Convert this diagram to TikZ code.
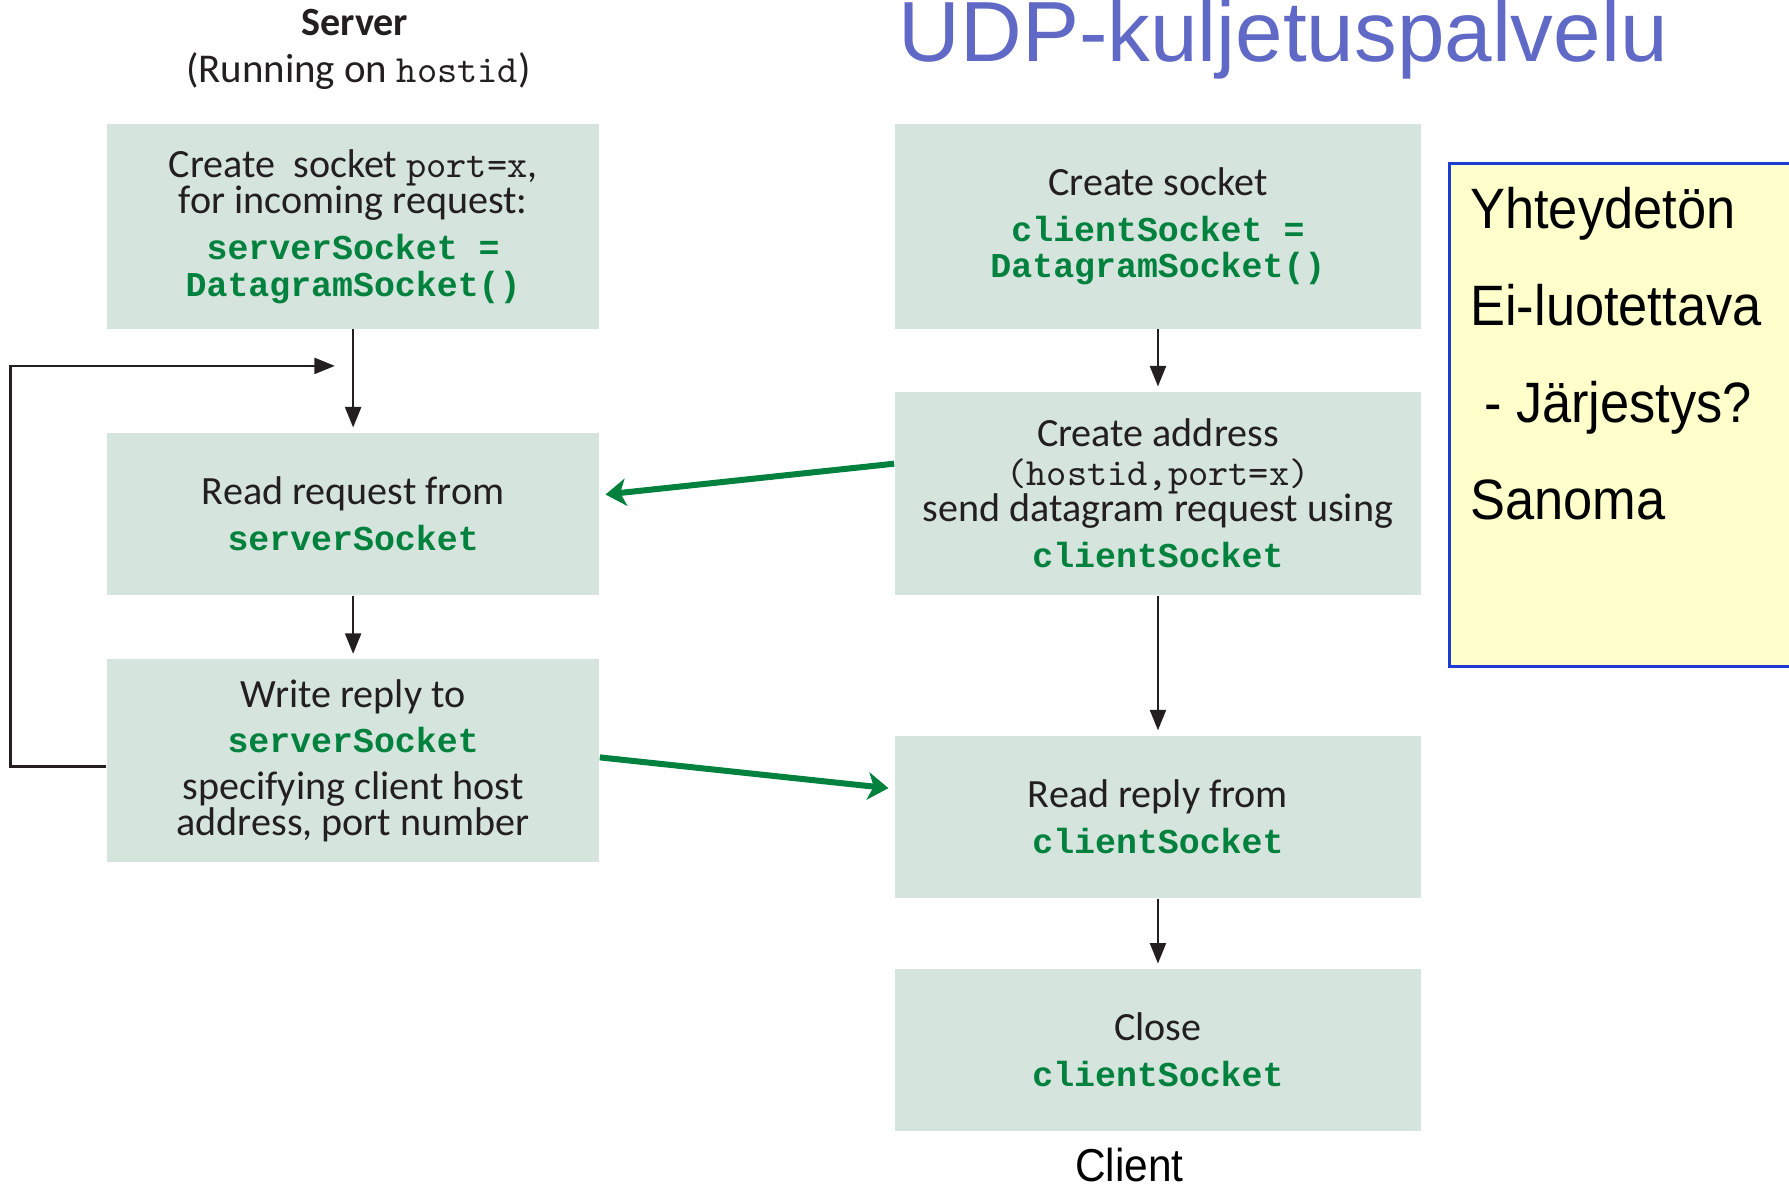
\documentclass[tikz,border=0pt]{standalone}
\usepackage{fontspec}
\setmainfont{Carlito}
\setmonofont{Liberation Mono}
\newfontfamily\lmmono{Latin Modern Mono}
\newfontfamily\arialfont{Liberation Sans}
\newfontfamily\narrowfont[FakeStretch=0.92]{Liberation Sans}
\usetikzlibrary{arrows.meta, positioning}
\definecolor{boxgreen}{RGB}{213,228,221}
\definecolor{codegreen}{RGB}{0,130,62}
\definecolor{titleblue}{RGB}{96,106,198}
\definecolor{noteyellow}{RGB}{255,255,204}
\definecolor{noteblue}{RGB}{30,60,210}
\definecolor{textgray}{RGB}{35,31,32}
\newcommand{\boxfont}{\fontsize{10}{9.1}\selectfont\lineskiplimit=-20pt\relax}
\newcommand{\code}[1]{{\ttfamily\bfseries\fontsize{8.7}{9.1}\selectfont\color{codegreen}#1}}
\newcommand{\plaincode}[1]{{\lmmono\fontsize{9.6}{9.1}\selectfont #1}}

\begin{document}
\begin{tikzpicture}[
      node distance=0.9cm,
      stepbox/.style={rectangle, fill=boxgreen, text=textgray, align=center,
                  inner sep=2pt, font=\boxfont},
      srvbox/.style={stepbox, minimum width=4.31cm},
      clibox/.style={stepbox, minimum width=4.61cm},
      notebox/.style={rectangle, draw=noteblue, fill=noteyellow, line width=0.8pt},
      arr/.style={-{Triangle[length=1.8mm, width=1.4mm]}, line width=0.6pt,
                  draw=textgray, shorten >=0.4mm},
      msg/.style={-{Stealth[length=1.8mm, width=2.4mm, inset=0.5mm]},
                  line width=1.5pt, draw=codegreen}
    ]
    \useasboundingbox (0,0) rectangle (15.68,-10.39);

    % server side
    \node[font=\fontsize{10}{12}\selectfont\bfseries, text=textgray] (srvtitle) at (3.11,-0.20) {Server};
    \node[font=\fontsize{10.2}{12}\selectfont, text=textgray] (srvhost) at (3.14,-0.62) {(Running on \plaincode{hostid})};
    \node[srvbox, minimum height=1.79cm] (sinit) at (3.095,-1.985)
      {Create\ \ socket \plaincode{port=x},\\ for incoming request:\\[2.3pt] \code{serverSocket =}\\ \code{DatagramSocket()}};
    \node[srvbox, minimum height=1.42cm, below=0.90cm of sinit] (sread)
      {Read request from\\[2.3pt] \code{serverSocket}};
    \node[srvbox, minimum height=1.78cm, below=0.55cm of sread] (swrite)
      {Write reply to\\[2.3pt] \code{serverSocket}\\[2.5pt] specifying client host\\ address, port number};

    % client side
    \node[anchor=base west, inner sep=0, font=\arialfont\fontsize{21.3}{24}\selectfont, text=titleblue] (title) at (7.87,-0.54) {UDP-kuljetuspalvelu};
    \node[clibox, minimum height=1.79cm, right=2.58cm of sinit] (cinit)
      {Create socket\\[2.3pt] \code{clientSocket =}\\ \code{DatagramSocket()}};
    \node[clibox, minimum height=1.78cm, below=0.54cm of cinit] (csend)
      {Create address\\[0.6pt] \plaincode{(hostid,port=x)}\\ send datagram request using\\[2.3pt] \code{clientSocket}};
    \node[clibox, minimum height=1.42cm, below=1.22cm of csend] (cread)
      {Read reply from\\[2.3pt] \code{clientSocket}};
    \node[clibox, minimum height=1.42cm, below=0.61cm of cread] (cclose)
      {Close\\[2.3pt] \code{clientSocket}};
    \node[inner sep=0, font=\narrowfont\fontsize{11.5}{13}\selectfont] (client) at (9.90,-10.21) {Client};

    % note
    \node[notebox, anchor=north west, minimum width=3.3cm, minimum height=4.41cm] (note) at (12.69,-1.42) {};
    \node[anchor=north west, align=left, inner sep=0, font=\narrowfont\fontsize{14.2}{24.2}\selectfont]
      (notetext) at ([shift={(0.19,-0.21)}]note.north west)
      {Yhteydetön\\ Ei-luotettava\\ \hspace{1.2mm}- Järjestys?\\ Sanoma};

    \coordinate (loopin) at ([shift={(-0.12,-0.32)}]sinit.south);

    \draw[arr] (sinit) -- (sread);
    \draw[arr] (sread) -- (swrite);
    \draw[arr] ([yshift=-0.5mm]swrite.west) -- ++(-0.84,0) |- (loopin);
    \draw[arr] (cinit) -- (csend);
    \draw[arr] (csend) -- (cread);
    \draw[arr] (cread) -- (cclose);

    \draw[msg] ([yshift=2.6mm]csend.west) -- ([shift={(0.5mm,1.7mm)}]sread.east);
    \draw[msg] ([yshift=0.3mm]swrite.east) -- ([shift={(-0.5mm,2.5mm)}]cread.west);
  \end{tikzpicture}
\end{document}
